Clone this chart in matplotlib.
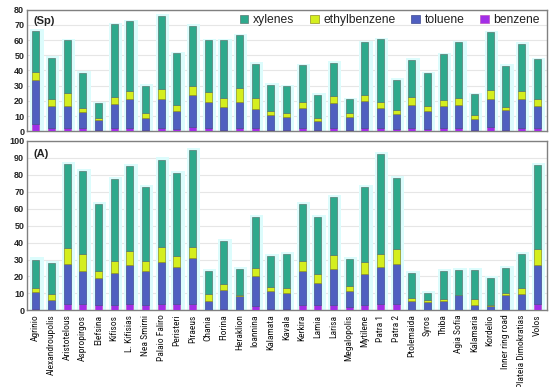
import numpy as np
import matplotlib
matplotlib.use("Agg")
import matplotlib.pyplot as plt
from matplotlib import font_manager as fm
from matplotlib.patches import Patch

names = {f.name for f in fm.fontManager.ttflist}
narrow = None
for cand in ["Liberation Sans Narrow", "DejaVu Sans Condensed", "Roboto Condensed", "Open Sans Condensed"]:
    if cand in names:
        narrow = cand
        break
plt.rcParams['font.family'] = ['Liberation Sans', 'DejaVu Sans']

sites = ["Agrinio", "Alexandroupolis", "Aristotelous", "Aspropirgos", "Elefsina", "Kifisos",
         "L. Kifisias", "Nea Smirni", "Palaio Faliro", "Peristeri", "Piraeus", "Chania",
         "Florina", "Heraklion", "Ioannina", "Kalamata", "Kavala", "Kerkira", "Lamia",
         "Larisa", "Megalopolis", "Mytilene", "Patra 1", "Patra 2", "Ptolemaida", "Syros",
         "Thiba", "Agia Sofia", "Kalamaria", "Kordelio", "Inner ring road",
         "Plateia Dimokratias", "Volos"]

# (Sp) panel – segment values
sp_benzene = [5, 2, 2, 2, 1, 2, 2, 1, 2, 1.5, 3, 2, 1, 2, 2, 1, 1, 2, 1, 2, 1, 2, 2, 1.5, 2, 1.5, 2, 2, 1, 2.5, 1, 2, 2]
sp_toluene = [29, 14.5, 14.5, 10.5, 6.5, 16, 19, 8, 19, 12, 21, 17.5, 15, 17.5, 12.5, 9.5, 8.5, 13, 5.5, 16.5, 8.5, 18, 13.5, 9.5, 15.5, 12, 14.5, 15, 7, 18.5, 13, 19.5, 14.5]
sp_ethylbenzene = [5, 4.5, 8.5, 3, 1.5, 4.5, 5.5, 3, 7, 4, 6, 6.5, 6, 9, 7.5, 2.5, 2.5, 4, 2, 4.5, 2.5, 4, 4, 3, 5, 3, 4, 5, 2.5, 6, 2, 5, 5]
sp_xylenes = [27, 27.5, 35, 23, 9.5, 48, 46, 18, 48, 34, 39.5, 34, 38, 34.5, 22.5, 17.5, 17.5, 24.5, 15.5, 22, 9, 34.5, 41, 20, 24.5, 21.5, 30, 36.5, 14, 38, 27, 31, 26]

# (A) panel – segment values
a_benzene = [1, 0.5, 3.5, 3.5, 3, 3, 3.5, 3, 3.5, 3.5, 4, 0.5, 1, 0.5, 2.5, 1, 1, 3, 3, 3, 2, 3, 3.5, 3.5, 0.5, 0.3, 0.5, 0.5, 0.5, 0.3, 0.3, 0.5, 3.5]
a_toluene = [10, 5.5, 24, 20, 16, 19, 23, 20, 25, 22, 27, 5, 11, 8, 17.5, 10.5, 9.5, 20, 13, 21.5, 9.5, 18.5, 22, 24, 5, 4.8, 5, 8.5, 2.5, 2.5, 8.5, 9, 23]
a_ethylbenzene = [2, 3.5, 9.5, 9.5, 4, 7, 8.5, 6, 9, 6.5, 6.5, 4, 3.5, 0.3, 5, 2.5, 2.5, 6, 5.5, 8, 3, 7, 7.5, 9, 2, 1, 1.5, 0.3, 4, 0.3, 1.5, 3.5, 10]
a_xylenes = [17, 18.5, 49.5, 49, 40, 48.5, 50, 44, 51.5, 49, 57, 14, 25.5, 15.5, 30, 18, 20, 34, 33.5, 34.5, 16, 44.5, 59, 41.5, 14.5, 4, 16.5, 14.5, 17, 16, 14.8, 20.5, 49]

series_names = ["benzene", "toluene", "ethylbenzene", "xylenes"]
colors = {"benzene": "#a22ee8", "toluene": "#4f5fc0", "ethylbenzene": "#d4ee1e", "xylenes": "#2ea98c"}
edges = {"benzene": "#c050c0", "toluene": "#404a90", "ethylbenzene": "#909020", "xylenes": "#5a7a72"}

fig = plt.figure(figsize=(5.5, 3.87), dpi=100)
ax1 = fig.add_axes([0.049, 0.661, 0.946, 0.314])
ax2 = fig.add_axes([0.049, 0.198, 0.946, 0.438])

x = np.arange(len(sites))
w = 0.45

def draw(ax, data, ymax, label):
    total = np.sum(np.array(data), axis=0)
    ax.bar(x + 0.08, total + ymax * 0.012, width=0.85, color="#dcfcfc", zorder=1, linewidth=0)
    bottom = np.zeros(len(sites))
    for name, vals in zip(series_names, data):
        vals = np.array(vals, dtype=float)
        ax.bar(x, vals, width=w, bottom=bottom, color=colors[name],
               edgecolor=edges[name], linewidth=0.5, zorder=3)
        bottom += vals
    ax.set_xlim(-0.56, 32.64)
    ax.set_ylim(0, ymax)
    ax.set_yticks(np.arange(0, ymax + 1, 10))
    ax.yaxis.grid(True, color="#e6e6e6", linewidth=0.8, zorder=0)
    ax.set_axisbelow(True)
    for s in ax.spines.values():
        s.set_color("#808080")
        s.set_linewidth(1.0)
    ax.tick_params(axis="both", length=0, pad=2)
    for t in ax.get_yticklabels():
        t.set_fontsize(6.5)
        t.set_fontweight("bold")
        t.set_color("#222222")
    ax.text(0.012, 0.95, label, transform=ax.transAxes, fontsize=8, fontweight="bold",
            va="top", ha="left", color="#222222", zorder=5)

draw(ax1, [sp_benzene, sp_toluene, sp_ethylbenzene, sp_xylenes], 80, "(Sp)")
draw(ax2, [a_benzene, a_toluene, a_ethylbenzene, a_xylenes], 100, "(A)")

ax1.set_xticks(x)
ax1.set_xticklabels([])
ax2.set_xticks(x)
if narrow:
    lab_fam, lab_size = [narrow, 'DejaVu Sans'], 6.8
else:
    lab_fam, lab_size = ['Liberation Sans', 'DejaVu Sans'], 5.8
ax2.set_xticklabels(sites, rotation=90, fontsize=lab_size, family=lab_fam, color="#111111")
ax2.tick_params(axis="x", pad=3)

handles = [Patch(facecolor=colors[n], edgecolor=edges[n], linewidth=0.5, label=n)
           for n in ["xylenes", "ethylbenzene", "toluene", "benzene"]]
leg = ax1.legend(handles=handles, loc="upper right", ncol=4, fontsize=8.7, frameon=False,
                 handlelength=0.7, handleheight=0.7, handletextpad=0.4, columnspacing=1.3,
                 bbox_to_anchor=(1.0, 1.02), borderaxespad=0.2)
for t in leg.get_texts():
    t.set_color("#222222")

fig.savefig("out.png", dpi=100)
